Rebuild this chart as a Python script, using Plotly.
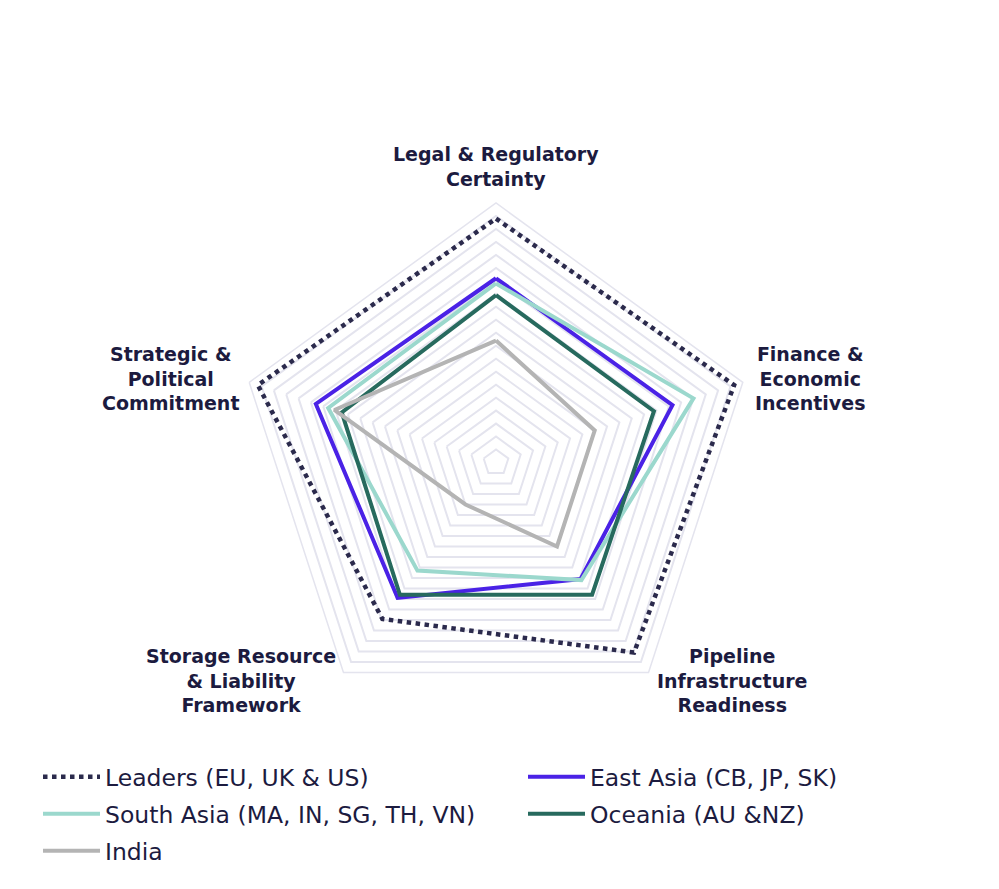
import plotly.graph_objects as go

categories = ["Legal & Regulatory Certainty", "Finance & Economic Incentives",
              "Pipeline Infrastructure Readiness", "Storage Resource & Liability Framework",
              "Strategic & Political Commitment"]
label_text = ["Legal & Regulatory<br>Certainty", "Finance &<br>Economic<br>Incentives",
              "Pipeline<br>Infrastructure<br>Readiness", "Storage Resource<br>& Liability<br>Framework",
              "Strategic &<br>Political<br>Commitment"]

series_names = ["Leaders (EU, UK & US)", "East Asia (CB, JP, SK)",
                "South Asia (MA, IN, SG, TH, VN)", "Oceania (AU &NZ)", "India"]
leaders = [9.4, 9.65, 9.05, 7.45, 9.65]
east_asia = [7.1, 7.15, 5.55, 6.45, 7.3]
south_asia = [6.9, 8.0, 5.6, 5.15, 6.8]
oceania = [6.45, 6.4, 6.3, 6.3, 6.25]
india = [4.7, 4.0, 4.0, 2.0, 6.55]

values = [leaders, east_asia, south_asia, oceania, india]
colors = ["#2b2a4c", "#4a22e6", "#9bd8cd", "#276a5e", "#b4b4b4"]
dashes = ["dot", "solid", "solid", "solid", "solid"]
widths = [4.5, 4, 4, 4, 4]

W, H = 999, 889
OFF = 8  # page body margin
cx, cy, R = 496 - OFF, 462.5 - OFF, 259.5

# legend slot positions (left x px, row centre y px)
legend_ids = ["legend", "legend2", "legend3", "legend4", "legend5"]
legend_pos = [(30, 777 - OFF), (515, 777 - OFF), (30, 814 - OFF), (515, 814 - OFF), (30, 851 - OFF)]

fig = go.Figure()
for name, vals, col, dash, w, lg in zip(series_names, values, colors, dashes, widths, legend_ids):
    fig.add_trace(go.Scatterpolar(
        r=vals + [vals[0]], theta=categories + [categories[0]],
        mode="lines", name=name, legend=lg, showlegend=True,
        line=dict(color=col, width=w, dash=dash),
    ))

grid_col = "#e4e4ee"
fig.update_layout(
    width=W, height=H, showlegend=True,
    margin=dict(l=0, r=0, t=0, b=0),
    paper_bgcolor="white", plot_bgcolor="white",
    font=dict(family="DejaVu Sans", color="#1c1b3f"),
    polar=dict(
        domain=dict(x=[(cx - R) / W, (cx + R) / W], y=[(H - cy - R) / H, (H - cy + R) / H]),
        gridshape="linear",
        bgcolor="white",
        radialaxis=dict(range=[0, 10], dtick=0.5, showticklabels=False, ticks="",
                        showline=False, gridcolor=grid_col, gridwidth=1.5),
        angularaxis=dict(direction="clockwise", rotation=90, showticklabels=False,
                         ticks="", showgrid=False, showline=True, linecolor=grid_col,
                         linewidth=1.5),
    ),
)

legend_layout = {}
for lg, (lx, ly) in zip(legend_ids, legend_pos):
    legend_layout[lg] = dict(orientation="v", visible=True,
                             font=dict(family="DejaVu Sans", size=23.5, color="#1c1b3f"),
                             itemwidth=57, bgcolor="rgba(0,0,0,0)", xanchor="left",
                             yanchor="middle", x=lx / W, y=1 - ly / H)
fig.update_layout(**legend_layout)

label_pos = [(496, 167), (810, 379), (732, 680), (241, 680), (170, 379)]
for txt, (lx, ly) in zip(label_text, label_pos):
    fig.add_annotation(text="<b>" + txt + "</b>", x=(lx - OFF) / W, y=1 - (ly - OFF) / H,
                       xref="paper", yref="paper",
                       showarrow=False, xanchor="center", yanchor="middle", align="center",
                       font=dict(family="DejaVu Sans", size=19, color="#1c1b3f"))

fig.write_html("out.html")
